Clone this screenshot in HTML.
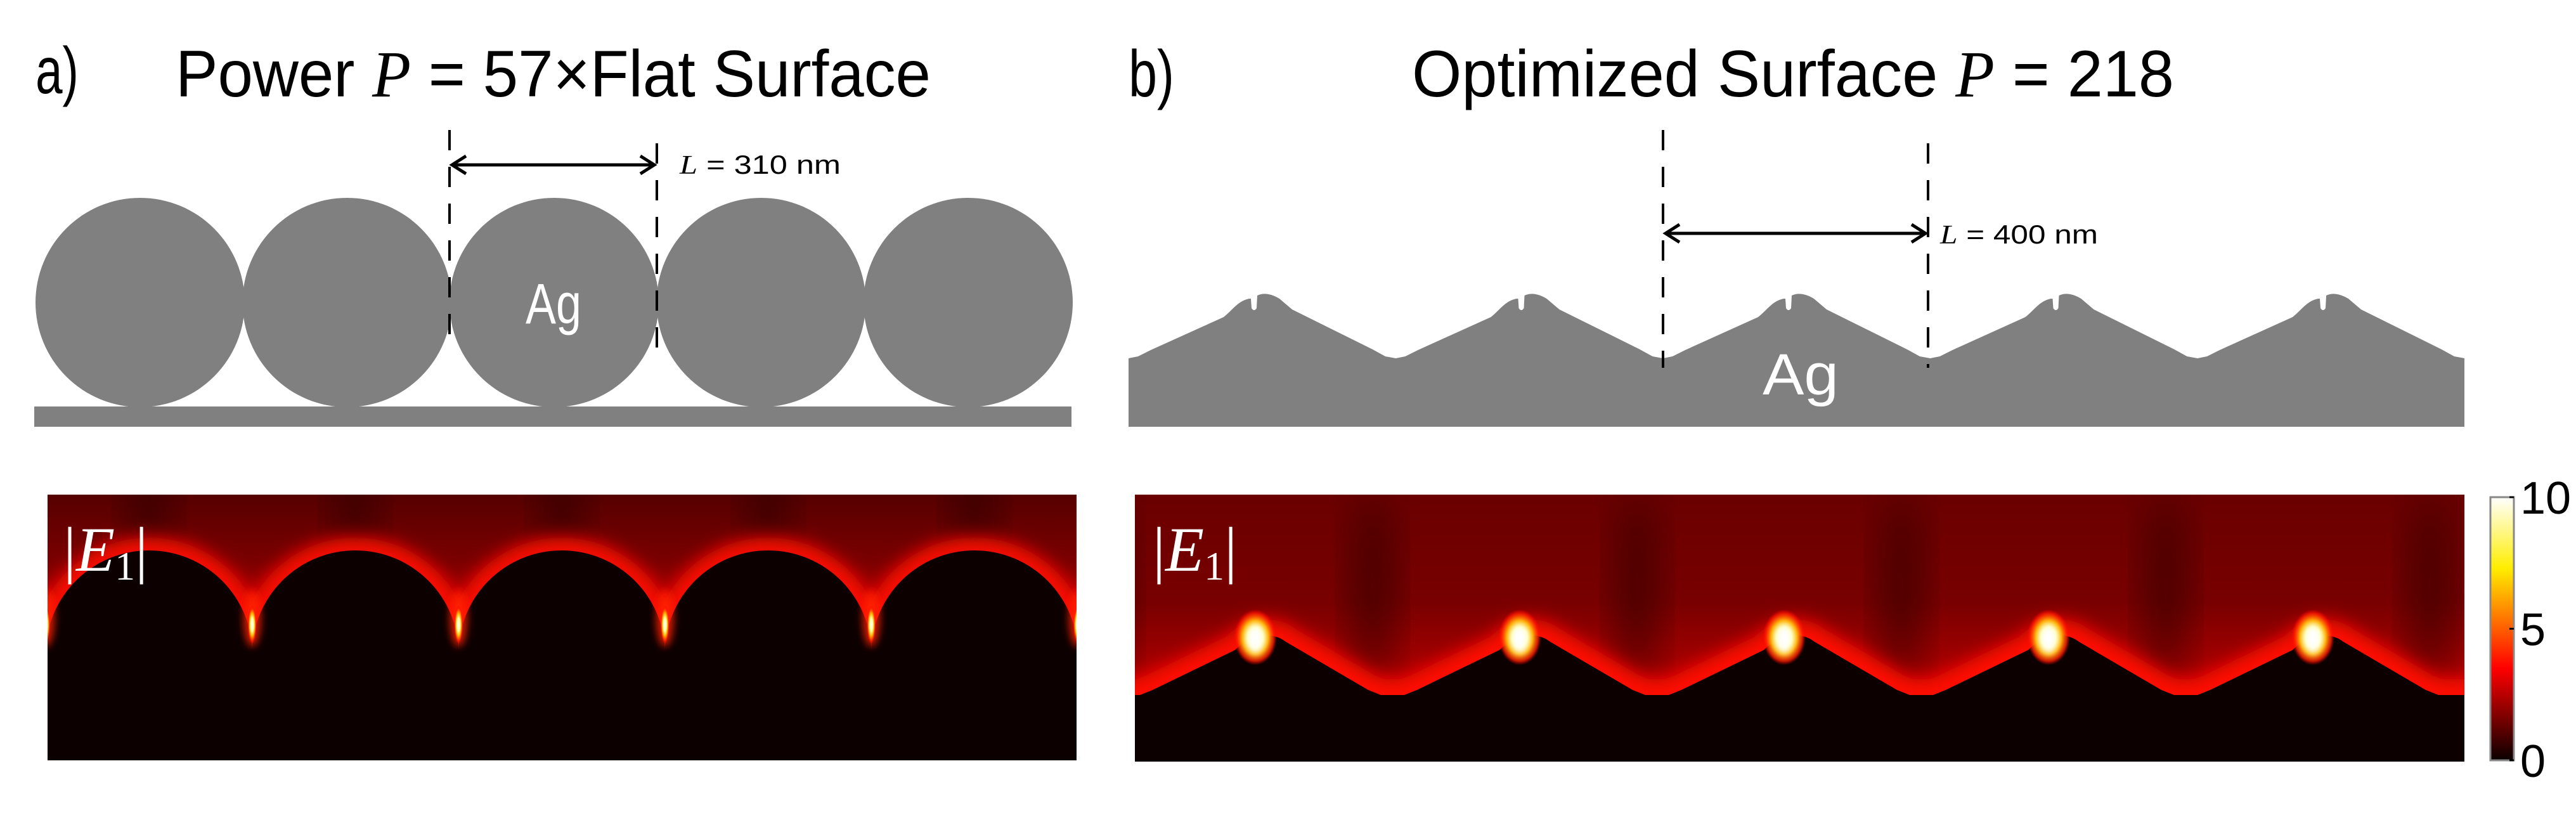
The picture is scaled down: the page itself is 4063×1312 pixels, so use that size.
<!DOCTYPE html>
<html><head><meta charset="utf-8"><style>
html,body{margin:0;padding:0;background:#fff;}
svg{display:block;}
</style></head><body>
<svg id="fig" width="4063" height="1312" viewBox="0 0 4063 1312" xmlns="http://www.w3.org/2000/svg" style="font-family:'Liberation Sans',sans-serif">
<defs>
  <filter id="blur30" x="-50%" y="-50%" width="200%" height="200%"><feGaussianBlur stdDeviation="30"/></filter>
  <filter id="blur14" x="-50%" y="-50%" width="200%" height="200%"><feGaussianBlur stdDeviation="14"/></filter>
  <filter id="blur6" x="-50%" y="-50%" width="200%" height="200%"><feGaussianBlur stdDeviation="6"/></filter>
  <clipPath id="clipL"><rect x="75" y="780" width="1623" height="419"/></clipPath>
  <clipPath id="clipR"><rect x="1790" y="780" width="2097" height="421"/></clipPath>
  <linearGradient id="bgL" x1="0" y1="0" x2="0" y2="1">
    <stop offset="0" stop-color="#560000"/><stop offset="0.25" stop-color="#7a0000"/><stop offset="0.5" stop-color="#c00000"/><stop offset="0.6" stop-color="#e00000"/><stop offset="1" stop-color="#200000"/>
  </linearGradient>
  <linearGradient id="bgR" x1="0" y1="0" x2="0" y2="1">
    <stop offset="0" stop-color="#6a0000"/><stop offset="0.4" stop-color="#780000"/><stop offset="0.7" stop-color="#b00000"/><stop offset="1" stop-color="#300000"/>
  </linearGradient>
  <linearGradient id="darkFade" x1="0" y1="0" x2="0" y2="1">
    <stop offset="0" stop-color="#0c0000" stop-opacity="0"/><stop offset="0.25" stop-color="#0c0000" stop-opacity="1"/><stop offset="1" stop-color="#0c0000"/>
  </linearGradient>
  <linearGradient id="cbar" x1="0" y1="1" x2="0" y2="0">
    <stop offset="0" stop-color="#0a0000"/><stop offset="0.35" stop-color="#ff0000"/><stop offset="0.73" stop-color="#ffee00"/><stop offset="1" stop-color="#ffffff"/>
  </linearGradient>
  <radialGradient id="hot"><stop offset="0" stop-color="#ffffff"/><stop offset="0.35" stop-color="#ffffa0"/><stop offset="0.6" stop-color="#ffb000"/><stop offset="0.85" stop-color="#ff2000" stop-opacity="0.8"/><stop offset="1" stop-color="#ff0000" stop-opacity="0"/></radialGradient>
</defs>

<!-- Titles -->
<text x="56" y="147" font-size="104" textLength="68" lengthAdjust="spacingAndGlyphs">a)</text>
<text x="277" y="152" font-size="104" textLength="1191" lengthAdjust="spacingAndGlyphs">Power <tspan style="font-family:'Liberation Serif',serif;font-style:italic">P</tspan> = 57×Flat Surface</text>
<text x="1780" y="152" font-size="104" textLength="72" lengthAdjust="spacingAndGlyphs">b)</text>
<text x="2227" y="152" font-size="104" textLength="1202" lengthAdjust="spacingAndGlyphs">Optimized Surface <tspan style="font-family:'Liberation Serif',serif;font-style:italic">P</tspan> = 218</text>

<g id="topA"></g>
<g id="topB"></g>
<g id="heatA" clip-path="url(#clipL)"></g>
<g id="heatB" clip-path="url(#clipR)"></g>

<text x="100" y="900" font-size="100" fill="#fff" style="font-family:'Liberation Serif',serif">|<tspan style="font-style:italic">E</tspan><tspan font-size="64" dy="14">1</tspan><tspan dy="-14">|</tspan></text>
<text x="1818" y="900" font-size="100" fill="#fff" style="font-family:'Liberation Serif',serif">|<tspan style="font-style:italic">E</tspan><tspan font-size="64" dy="14">1</tspan><tspan dy="-14">|</tspan></text>

<g id="colorbar">
  <rect x="3928" y="784" width="37" height="415" fill="url(#cbar)" stroke="#888" stroke-width="3"/>
</g>

<script>
const cbTicks = [0, 5, 10];
const cbMin = 0, cbMax = 10;
const periodsA = [0, 1, 2, 3, 4];
const periodsB = [0, 1, 2, 3, 4];
const periodValA = "310 nm";
const periodValB = "400 nm";

const NS = "http://www.w3.org/2000/svg";
function mk(parent, tag, attrs){ const e=document.createElementNS(NS,tag); for(const k in attrs) e.setAttribute(k,attrs[k]); parent.appendChild(e); return e; }

// colorbar ticks
const cb = document.getElementById('colorbar');
const cbY = v => 1199 - (v - cbMin) / (cbMax - cbMin) * 415;
cbTicks.forEach(t => {
  const l = mk(cb,'line',{x1:3958,x2:3965,y1:cbY(t),y2:cbY(t),stroke:'#000','stroke-width':3});
  
  
  const tx = mk(cb,'text',{x:3975,y:cbY(t)+26,'font-size':72});
  tx.textContent = t;
  
  
});

// ---- Panel A top
const A = document.getElementById('topA');
const pA = 326.5, cxA = i => 221 + i*pA;
const base = mk(A,'rect',{x:54,y:641,width:1636,height:32,fill:'#808080'});


periodsA.forEach(i => {
  const c = mk(A,'circle',{cx:cxA(i),cy:477,r:165,fill:'#808080'});
  
  
});
function dims(g, x1, x2, y1a, y1b, y2a, y2b, ay, val, lx, ly, lw){
  [[x1,y1a,y1b],[x2,y2a,y2b]].forEach(d=>{
    const l = mk(g,'line',{x1:d[0],x2:d[0],y1:d[1],y2:d[2],stroke:'#000','stroke-width':4,'stroke-dasharray':'32 26'});
    
    
  });
  const ar = mk(g,'path',{d:`M${x1+4},${ay} L${x2-4},${ay} M${x1+26},${ay-14} L${x1+4},${ay} L${x1+26},${ay+14} M${x2-26},${ay-14} L${x2-4},${ay} L${x2-26},${ay+14}`,stroke:'#000','stroke-width':5,fill:'none'});
  
  
  const t = mk(g,'text',{x:lx,y:ly,'font-size':42,textLength:lw,lengthAdjust:'spacingAndGlyphs'});
  const ts = mk(t,'tspan',{style:"font-family:'Liberation Serif',serif;font-style:italic"});
  ts.textContent = 'L';
  t.appendChild(document.createTextNode(' = ' + val));
  
  
}
const agA = mk(A,'text',{x:873,y:510,'font-size':90,fill:'#fff','text-anchor':'middle',textLength:88,lengthAdjust:'spacingAndGlyphs'});
agA.textContent='Ag';


dims(A, 709, 1036, 205, 531, 226, 553, 260, periodValA, 1072, 274, 254);

// ---- Panel B top
const B = document.getElementById('topB');
const pB = 421.5, vB = i => 1780 + i*pB;
function surf(v){
  return `L${v+15},562 L${v+35},552 L${v+150},500 C${v+165},488 ${v+172},475 ${v+190},471 L${v+193},471 L${v+194},486 Q${v+198},492 ${v+202},486 L${v+203},466 Q${v+218},459 ${v+238},471 L${v+258},488 L${v+385},551 L${v+405},562 L${v+pB},565`;
}
let d = `M1780,673 L1780,565 `;
periodsB.forEach(i => { d += surf(vB(i)) + ' '; });
d += `L3887,565 L3887,673 Z`;
const sb = mk(B,'path',{d:d,fill:'#808080'});


const agB = mk(B,'text',{x:2840,y:622,'font-size':92,fill:'#fff','text-anchor':'middle',textLength:120,lengthAdjust:'spacingAndGlyphs'});
agB.textContent='Ag';


dims(B, 2623, 3041, 205, 580, 226, 580, 368, periodValB, 3060, 384, 249);

// ---- Heatmap A
const HA = document.getElementById('heatA');
mk(HA,'rect',{x:75,y:780,width:1623,height:419,fill:'url(#bgL)'});
const hcx = i => 72 + 163 + i*325.5;
[-1,0,1,2,3,4,5].forEach(i => {
  const b = mk(HA,'ellipse',{cx:hcx(i),cy:800,rx:30,ry:90,fill:'#300000',opacity:0.75,filter:'url(#blur30)'});
  
  
});
[-1,0,1,2,3,4,5].forEach(i => {
  mk(HA,'circle',{cx:hcx(i),cy:1031,r:163,fill:'none',stroke:'#ff1000','stroke-width':40,filter:'url(#blur14)'});
});
[-1,0,1,2,3,4,5].forEach(i => {
  const c = mk(HA,'circle',{cx:hcx(i),cy:1031,r:163,fill:'#0c0000'});
  
  
});
// dark lower region below cusps
mk(HA,'rect',{x:75,y:990,width:1623,height:210,fill:'url(#darkFade)'});
// cusp hotspots
[0,1,2,3,4,5].forEach(i => {
  const x = hcx(i) - 162.75;
  mk(HA,'ellipse',{cx:x,cy:975,rx:14,ry:45,fill:'#ff2000',opacity:0.8,filter:'url(#blur6)'});
  const h = mk(HA,'ellipse',{cx:x,cy:985,rx:7,ry:30,fill:'url(#hot)'});
  
  
});

// ---- Heatmap B
const HB = document.getElementById('heatB');
mk(HB,'rect',{x:1790,y:780,width:2097,height:421,fill:'url(#bgR)'});
const vH = i => 1778 + i*417;
[0,1,2,3,4,5].forEach(i => {
  const b = mk(HB,'ellipse',{cx:vH(i)-30,cy:930,rx:30,ry:150,fill:'#300000',opacity:0.7,filter:'url(#blur30)'});
  
  
});
function hsurf(v){
  return `L${v+20},1096 L${v+40},1088 L${v+170},1025 Q${v+190},1005 ${v+210},1002 Q${v+235},1000 ${v+250},1012 L${v+380},1088 L${v+400},1096 L${v+417},1096`;
}
let hd = `M1790,1201 L1790,1096 `;
[0,1,2,3,4].forEach(i => { hd += hsurf(vH(i)) + ' '; });
hd += `L3887,1096 L3887,1201 Z`;
mk(HB,'path',{d:hd,fill:'none',stroke:'#ff1000','stroke-width':50,filter:'url(#blur14)'});
const hs = mk(HB,'path',{d:hd,fill:'#0c0000'});


[0,1,2,3,4].forEach(i => {
  const x = vH(i) + 202;
  mk(HB,'ellipse',{cx:x,cy:1005,rx:34,ry:44,fill:'url(#hot)'});
  const h = mk(HB,'ellipse',{cx:x,cy:1008,rx:12,ry:22,fill:'#fff',filter:'url(#blur6)'});
  
  
});
</script>
</svg>
</body></html>
